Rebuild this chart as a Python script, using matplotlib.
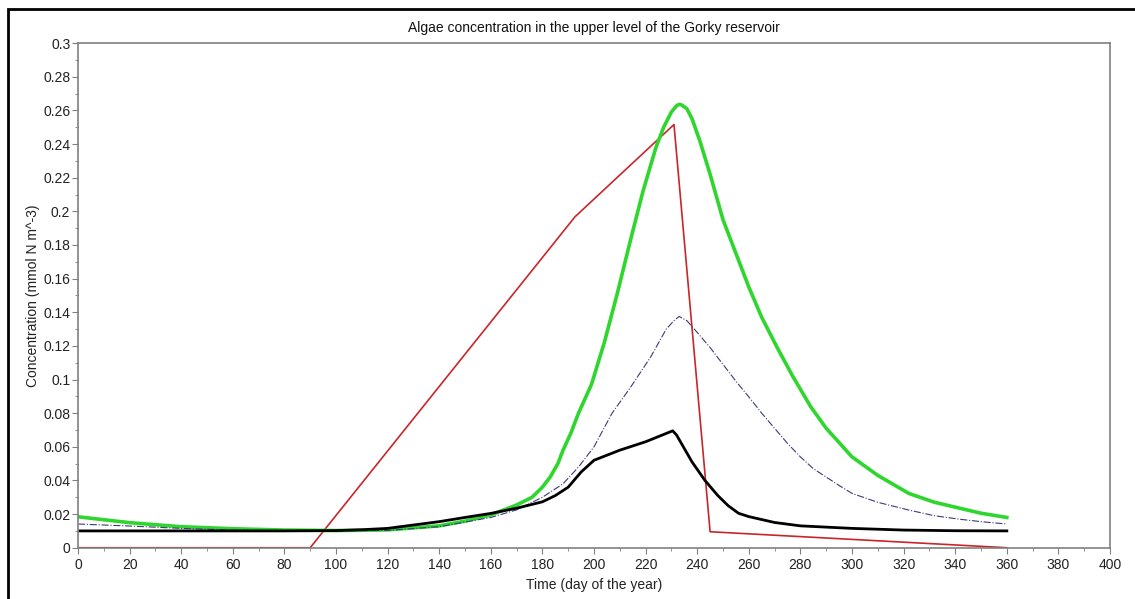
import matplotlib.pyplot as plt
from matplotlib.patches import Rectangle
from matplotlib.ticker import MultipleLocator

plt.rcParams['font.family'] = ['Liberation Sans', 'DejaVu Sans']

# red: observed / forcing curve
red_days = [0, 90, 192.6, 231, 245, 360]
red_vals = [0, 0, 0.1967, 0.2516, 0.0095, 0]

# green
green_days = [0, 20, 40, 60, 80, 100, 120, 140, 150, 160, 170, 176, 180, 183, 186, 188,
              191, 194, 199, 204, 209, 214, 219, 224, 227, 230, 232, 233, 234, 236, 238,
              241, 245, 250, 255, 260, 265, 271, 277, 284, 290, 300, 310, 322, 332, 342,
              350, 360]
green_vals = [0.0184, 0.0149, 0.0125, 0.0113, 0.0105, 0.0102, 0.0106, 0.013, 0.0158,
              0.0195, 0.0254, 0.030, 0.036, 0.042, 0.050, 0.058, 0.068, 0.080, 0.097,
              0.122, 0.151, 0.182, 0.212, 0.238, 0.250, 0.259, 0.2628, 0.2636, 0.2632,
              0.261, 0.255, 0.242, 0.222, 0.195, 0.175, 0.155, 0.137, 0.119, 0.102,
              0.0838, 0.071, 0.054, 0.043, 0.0323, 0.027, 0.0234, 0.0205, 0.018]

# black
black_days = [0, 20, 40, 60, 80, 100, 110, 120, 130, 140, 150, 160, 170, 180, 185,
              190, 195, 200, 205, 210, 220, 230.5, 232, 235, 238, 243, 248, 252, 256,
              260, 270, 280, 300, 320, 340, 360]
black_vals = [0.01, 0.01, 0.01, 0.01, 0.01, 0.0102, 0.0107, 0.0115, 0.0135, 0.0155,
              0.018, 0.0204, 0.0235, 0.0273, 0.031, 0.036, 0.045, 0.052, 0.055, 0.058,
              0.063, 0.0695, 0.067, 0.059, 0.051, 0.040, 0.031, 0.025, 0.0205, 0.0185,
              0.015, 0.013, 0.0115, 0.0105, 0.0101, 0.01]

# dash-dot
dd_days = [0, 20, 40, 60, 80, 100, 120, 140, 160, 170, 180, 188, 194, 200, 207, 214,
           222, 228, 231, 233, 236, 240, 245, 250, 255, 260, 265, 270, 275, 280, 285,
           290, 295, 300, 310, 322, 332, 342, 350, 360]
dd_vals = [0.0141, 0.0129, 0.0115, 0.0105, 0.0101, 0.01, 0.0103, 0.0125, 0.018, 0.0225,
           0.030, 0.038, 0.048, 0.060, 0.080, 0.095, 0.1135, 0.130, 0.135, 0.1375,
           0.135, 0.128, 0.119, 0.109, 0.099, 0.0897, 0.080, 0.071, 0.062, 0.054,
           0.047, 0.042, 0.037, 0.0323, 0.027, 0.0224, 0.019, 0.0169, 0.0155, 0.0141]

fig = plt.figure(figsize=(11.35, 5.99), dpi=100)
ax = fig.add_axes([0.0687, 0.0856, 0.9093, 0.8424])

ax.plot(red_days, red_vals, color='#c8262a', lw=1.2)
ax.plot(green_days, green_vals, color='#2ed62e', lw=2.6)
ax.plot(dd_days, dd_vals, color='#3b3b78', lw=0.8, linestyle='-.')
ax.plot(black_days, black_vals, color='black', lw=2.0)

ax.set_xlim(0, 400)
ax.set_ylim(0, 0.3)
ax.xaxis.set_major_locator(MultipleLocator(20))
ax.xaxis.set_minor_locator(MultipleLocator(10))
ax.yaxis.set_minor_locator(MultipleLocator(0.01))
ax.set_yticks([0, 0.02, 0.04, 0.06, 0.08, 0.1, 0.12, 0.14, 0.16, 0.18, 0.2, 0.22,
               0.24, 0.26, 0.28, 0.3])
ax.set_yticklabels(['0', '0.02', '0.04', '0.06', '0.08', '0.1', '0.12', '0.14', '0.16',
                    '0.18', '0.2', '0.22', '0.24', '0.26', '0.28', '0.3'])

for s in ax.spines.values():
    s.set_color('#808080')
    s.set_linewidth(1.2)
ax.tick_params(which='both', direction='out', colors='#808080', labelcolor='#222222',
               labelsize=10)
ax.tick_params(which='major', length=4)
ax.tick_params(which='minor', length=2.5)
ax.tick_params(axis='y', pad=1.5)

ax.set_xlabel('Time (day of the year)', fontsize=10, color='#222222', labelpad=4)
ax.set_ylabel('Concentration (mmol N m^-3)', fontsize=10, color='#222222', labelpad=2)
ax.set_title('Algae concentration in the upper level of the Gorky reservoir',
             fontsize=10, color='#111111', pad=8)

# outer frame
fig.patches.append(Rectangle((8 / 1135, -0.05), 1.2, (599 - 9) / 599 + 0.05,
                             transform=fig.transFigure, fill=False,
                             edgecolor='black', lw=2))

plt.savefig('out.png', dpi=100)
